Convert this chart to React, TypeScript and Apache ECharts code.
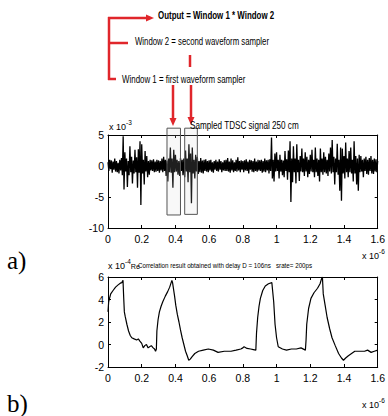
import React, { useEffect, useRef } from "react";
import * as echarts from "echarts";

// ---------- data ----------
// Top: sampled TDSC signal (x in units of 1e-6 s, y in units of 1e-3), 0.005 step
const SIGNAL_STEP = 0.005;
const SIGNAL_V: number[] = [
  0.6, -0.8, 1.0, -0.5, 0.9, -1.1, 0.7, -0.6, 1.2, -0.9, 0.8, -1.0, 0.5, -1.2, 1.0, -0.7, 1.3, -1.5, 4.8, -3.8,
  2.2, -0.9, 1.2, -3.4, 0.8, -1.5, 3.2, -1.0, 1.5, -2.8, 0.9, -1.2, 2.6, -1.0, 1.4, -3.5, 2.7, -1.1, 4.0, -6.3,
  3.5, -1.2, 1.0, -3.0, 2.4, -0.9, 1.6, -1.8, 0.8, -1.4, 1.0, -0.7, 0.9, -0.8, 1.1, -1.0, 0.7, -0.9, 1.0, -0.8,
  0.9, -1.1, 0.8, -0.7, 1.2, -1.0, 1.5, -0.8, 1.0, -1.6, 0.9, -2.5, 1.2, -1.0, 3.0, -1.1, 1.2, -3.5, 2.6, -1.0,
  1.8, -0.9, 1.0, -1.4, 0.8, -1.6, 1.3, -0.8, 1.0, -1.5, 1.2, -1.8, 2.5, -0.9, 1.2, -2.6, 3.5, -1.0, 2.0, -6.0,
  3.0, -1.2, 1.0, -2.0, 1.8, -0.9, 1.5, -1.3, 0.8, -1.0, 1.3, -1.1, 0.9, -1.2, 1.0, -0.8, 1.1, -0.9, 0.8, -1.0,
  0.9, -0.7, 1.0, -0.9, 0.6, -1.1, 0.8, -0.6, 1.0, -0.8, 0.7, -0.9, 1.1, -0.6, 0.8, -1.0, 0.6, -0.7, 0.9, -0.8,
  1.0, -0.8, 1.3, -0.9, 0.7, -1.1, 1.2, -0.7, 0.9, -1.0, 0.6, -0.8, 1.0, -0.9, 1.4, -0.7, 0.8, -1.0, 0.9, -0.6,
  0.8, -1.0, 0.9, -0.7, 1.1, -0.8, 0.7, -1.2, 1.0, -0.6, 0.9, -0.9, 0.8, -1.0, 1.2, -0.8, 0.7, -0.9, 1.0, -0.7,
  0.9, -0.8, 1.0, -1.1, 0.8, -0.9, 1.2, -1.0, 0.9, -0.7, 1.0, -1.2, 1.1, -0.8, 4.6, -2.0, 1.0, -2.5, 2.0, -0.9,
  2.2, -0.8, 1.0, -2.0, 1.8, -0.9, 1.0, -1.5, 0.9, -1.8, 2.4, -0.8, 1.1, -2.2, 2.5, -1.0, 4.0, -5.8, 1.2, -2.6,
  3.2, -1.0, 1.2, -2.8, 3.5, -1.0, 1.0, -2.4, 1.6, -0.9, 2.8, -1.0, 1.2, -1.6, 2.2, -0.9, 1.5, -1.8, 1.0, -1.3,
  1.8, -0.9, 2.6, -1.0, 1.0, -1.8, 3.0, -1.0, 1.2, -1.6, 1.0, -2.5, 2.8, -1.0, 1.2, -1.4, 2.2, -1.0, 1.5, -1.2,
  1.0, -1.6, 2.0, -0.9, 3.0, -1.2, 4.2, -1.0, 1.5, -3.0, 1.2, -1.0, 3.6, -1.4, 1.0, -4.0, 3.0, -5.6, 2.8, -1.2,
  1.6, -2.0, 3.8, -1.0, 1.2, -1.8, 2.4, -1.0, 3.0, -1.2, 1.0, -2.5, 4.0, -1.2, 1.6, -3.0, 1.2, -4.0, 1.8, -1.0,
  1.6, -0.9, 1.0, -1.8, 1.2, -0.8, 1.5, -1.3, 1.0, -1.4, 1.3, -0.8, 1.6, -1.2, 1.0, -1.3, 1.2, -0.9, 1.1, -1.0,
  0.8,
];

// Bottom: correlation result (x in units of 1e-6 s, y in units of 1e-4)
const CORR_T: number[] = [
  0, 0.004, 0.016, 0.03, 0.045, 0.06, 0.073, 0.082, 0.089, 0.093, 0.097, 0.102, 0.112, 0.122, 0.132, 0.141,
  0.155, 0.17, 0.18, 0.189, 0.2, 0.209, 0.218, 0.228, 0.238, 0.247, 0.257, 0.268, 0.276, 0.282, 0.287, 0.29,
  0.297, 0.305, 0.315, 0.325, 0.34, 0.354, 0.366, 0.379, 0.383, 0.387, 0.395, 0.402, 0.411, 0.421, 0.43, 0.44,
  0.45, 0.46, 0.47, 0.479, 0.488, 0.498, 0.515, 0.537, 0.565, 0.595, 0.625, 0.653, 0.69, 0.73, 0.76, 0.788,
  0.8, 0.807, 0.825, 0.846, 0.862, 0.877, 0.881, 0.888, 0.896, 0.904, 0.918, 0.933, 0.952, 0.972, 0.976, 0.983,
  0.991, 1.0, 1.01, 1.035, 1.059, 1.088, 1.117, 1.145, 1.171, 1.175, 1.179, 1.19, 1.204, 1.222, 1.243, 1.258,
  1.268, 1.272, 1.277, 1.288, 1.3, 1.315, 1.329, 1.348, 1.368, 1.385, 1.397, 1.41, 1.426, 1.445, 1.464, 1.49,
  1.522, 1.54, 1.561, 1.58, 1.6,
];
const CORR_V: number[] = [
  2.9, 3.8, 4.5, 4.8, 5.1, 5.3, 5.45, 5.5, 5.7, 4.2, 2.9, 2.5, 1.8, 1.2, 0.8, 0.6,
  0.5, 0.4, 0.5, 0.3, 0.1, -0.3, -0.1, 0.0, -0.3, -0.2, -0.1, -0.3, -0.4, -0.6, -0.4, 1.2,
  2.2, 2.9, 3.4, 3.8, 4.3, 4.7, 5.1, 5.7, 5.5, 5.1, 4.3, 3.5, 2.7, 2.0, 1.3, 0.6,
  0.0, -0.6, -1.0, -1.4, -1.3, -1.1, -0.8, -0.6, -0.5, -0.4, -0.5, -0.7, -0.6, -0.6, -0.5, -0.4,
  -0.3, -0.2, -0.35, -0.4, -0.45, -0.5, 1.0, 2.4, 3.4, 4.1, 4.8, 5.2, 5.4, 5.5, 5.5, 3.8,
  1.8, 0.6, -0.2, -0.4, -0.5, -0.4, -0.4, -0.3, -0.5, 0.4, 1.8, 3.2, 4.1, 4.6, 5.0, 5.4,
  5.9, 6.0, 4.5, 3.5, 2.4, 1.4, 0.6, -0.1, -0.8, -1.2, -1.4, -1.2, -1.0, -0.8, -0.6, -0.6,
  -0.6, -0.5, -0.7, -0.6, -0.5,
];

const X_MIN = 0;
const X_MAX = 1.6;
const X_INTERVAL = 0.2;
const TOP_Y = { min: -10, max: 5, interval: 5 };
const BOT_Y = { min: -2, max: 6, interval: 2 };

// highlighted sampling windows (x range, y range) on the top chart
const WINDOW_1 = { x: [0.35, 0.43], y: [6.1, -7.9] };
const WINDOW_2 = { x: [0.455, 0.53], y: [6.1, -7.8] };

const FONT = '"Liberation Sans", Arial, sans-serif';
const SERIF = '"Liberation Serif", "Times New Roman", serif';
const RED = "#e0262b";

export default function App() {
  const ref = useRef<HTMLDivElement>(null);

  useEffect(() => {
    if (!ref.current) return;
    const chart = echarts.init(ref.current, undefined, { renderer: "svg" });

    const signalData = SIGNAL_V.map((v, i) => [i * SIGNAL_STEP, v]);
    const corrData = CORR_T.map((t, i) => [t, CORR_V[i]]);

    const fmtX = (v: number) => String(+v.toFixed(1));
    const label = { color: "#000", fontFamily: FONT, fontSize: 10.5 };
    const line = { show: true, onZero: false, lineStyle: { color: "#000", width: 1 } };
    const tick = { show: true, inside: true, length: 3, lineStyle: { color: "#000" } };

    const xAx = (grid: number, pos: "bottom" | "top") => ({
      type: "value",
      gridIndex: grid,
      position: pos,
      min: X_MIN,
      max: X_MAX,
      interval: X_INTERVAL,
      axisLine: line,
      axisTick: tick,
      splitLine: { show: false },
      axisLabel:
        pos === "bottom"
          ? { ...label, margin: 5, formatter: fmtX, showMaxLabel: true, showMinLabel: true }
          : { show: false },
    });
    const yAx = (grid: number, pos: "left" | "right", r: { min: number; max: number; interval: number }) => ({
      type: "value",
      gridIndex: grid,
      position: pos,
      min: r.min,
      max: r.max,
      interval: r.interval,
      axisLine: line,
      axisTick: tick,
      splitLine: { show: false },
      axisLabel: pos === "left" ? { ...label, margin: 4 } : { show: false },
    });

    chart.setOption({
      animation: false,
      backgroundColor: "#fff",
      grid: [
        { left: 108, right: 5, top: 135, height: 93, show: false },
        { left: 108, right: 5, top: 277, height: 90, show: false },
      ],
      xAxis: [xAx(0, "bottom"), xAx(0, "top"), xAx(1, "bottom"), xAx(1, "top")],
      yAxis: [
        yAx(0, "left", TOP_Y),
        yAx(0, "right", TOP_Y),
        yAx(1, "left", BOT_Y),
        yAx(1, "right", BOT_Y),
      ],
      series: [
        {
          type: "line",
          xAxisIndex: 0,
          yAxisIndex: 0,
          data: signalData,
          showSymbol: false,
          lineStyle: { color: "#000", width: 1.3 },
        },
        {
          type: "line",
          xAxisIndex: 2,
          yAxisIndex: 2,
          data: corrData,
          showSymbol: false,
          lineStyle: { color: "#000", width: 1.2 },
        },
      ],
    });

    const box = (w: { x: number[]; y: number[] }) => {
      const p1 = chart.convertToPixel({ gridIndex: 0 }, [w.x[0], w.y[0]]) as number[];
      const p2 = chart.convertToPixel({ gridIndex: 0 }, [w.x[1], w.y[1]]) as number[];
      return {
        type: "rect",
        shape: { x: p1[0], y: p1[1], width: p2[0] - p1[0], height: p2[1] - p1[1] },
        style: { fill: "rgba(210,210,210,0.15)", stroke: "#555", lineWidth: 1 },
        z: 10,
      };
    };
    const txt = (x: number, y: number, text: string, size: number, scaleX = 1, extra: any = {}) => ({
      type: "text",
      x,
      y,
      scaleX,
      style: {
        text,
        fontSize: size,
        fontFamily: FONT,
        fill: "#000",
        textVerticalAlign: "middle",
        ...extra,
      },
      z: 20,
    });
    // "x 10^e" exponent label as one rich text
    const expo = (x: number, y: number, e: string, size: number, tail = "") => ({
      type: "text",
      x,
      y,
      style: {
        text: `{a|x 10}{s|${e}}` + (tail ? `{r|${tail}}` : ""),
        fontFamily: FONT,
        fill: "#000",
        textVerticalAlign: "middle",
        rich: {
          a: { fontSize: size, lineHeight: 12, verticalAlign: "bottom", fontFamily: FONT },
          s: { fontSize: size * 0.72, lineHeight: 8, verticalAlign: "top", fontFamily: FONT },
          r: { fontSize: size * 0.8, lineHeight: 12, verticalAlign: "bottom", fontFamily: FONT },
        },
      },
      z: 20,
    });
    const redLine = (x1: number, y1: number, x2: number, y2: number) => ({
      type: "line",
      shape: { x1, y1, x2, y2 },
      style: { stroke: RED, lineWidth: 2.5 },
      z: 20,
    });
    const head = (pts: number[][]) => ({
      type: "polygon",
      shape: { points: pts },
      style: { fill: RED },
      z: 20,
    });

    chart.setOption({
      graphic: [
        box(WINDOW_1),
        box(WINDOW_2),
        // diagram texts
        txt(158, 15, "Output = Window 1 * Window 2", 11, 0.72, { fontWeight: "bold" }),
        txt(135, 41, "Window 2 = second waveform sampler", 11, 0.71),
        txt(122, 79, "Window 1 = first waveform sampler", 11, 0.72),
        // red bracket and arrows
        redLine(108, 18, 147, 18),
        head([[146, 14.5], [154, 18], [146, 21.5]]),
        redLine(109, 17, 109, 80),
        redLine(108, 43, 128, 43),
        redLine(108, 79, 116, 79),
        redLine(190, 55, 190, 67),
        redLine(173, 85, 173, 119),
        head([[169.5, 118], [173, 126], [176.5, 118]]),
        redLine(191, 85, 191, 118),
        head([[187.5, 117], [191, 125], [194.5, 117]]),
        // top chart annotations
        txt(190, 125, "Sampled TDSC signal 250 cm", 11, 0.74),
        expo(109, 125, "-3", 9),
        expo(362, 254, "-6", 9),
        // bottom chart annotations
        expo(108, 264, "-4", 9, "Re"),
        txt(138, 265, "Correlation result obtained with delay D = 106ns   srate= 200ps", 6.5, 0.96),
        expo(362, 403, "-6", 9),
        // panel labels
        {
          type: "text",
          x: 7,
          y: 260,
          style: { text: "a)", fontSize: 25, fontFamily: SERIF, fill: "#000", textVerticalAlign: "middle" },
        },
        {
          type: "text",
          x: 7,
          y: 403,
          style: { text: "b)", fontSize: 25, fontFamily: SERIF, fill: "#000", textVerticalAlign: "middle" },
        },
      ],
    });

    return () => chart.dispose();
  }, []);

  return (
    <div
      ref={ref}
      style={{ position: "absolute", left: 0, top: 0, width: 388, height: 416 }}
    />
  );
}
